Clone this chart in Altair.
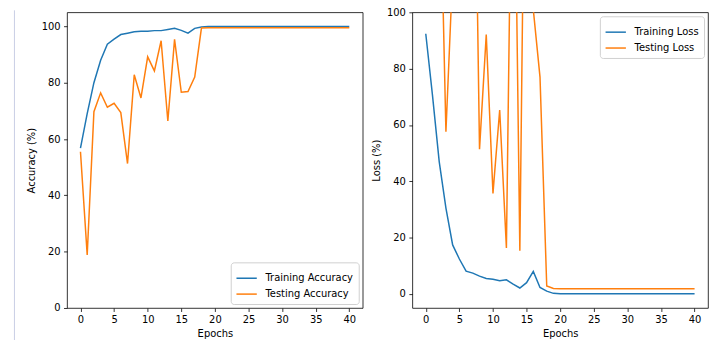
import altair as alt
import pandas as pd

epochs = list(range(41))

train_acc = [56.8, 69.0, 80.0, 88.0, 93.7, 95.5, 97.1, 97.6, 98.1, 98.3,
             98.3, 98.5, 98.5, 98.9, 99.3, 98.6, 97.6, 99.3, 99.8, 99.95] + [99.95] * 21
test_acc = [55.5, 18.8, 69.7, 76.4, 71.3, 72.7, 69.4, 51.3, 82.8, 74.6,
            89.2, 84.2, 94.9, 66.4, 95.4, 76.6, 76.9, 82.0, 99.4, 99.5] + [99.5] * 21

train_loss = [92.4, 70.5, 47.0, 30.5, 17.4, 12.4, 8.1, 7.4, 6.3, 5.5,
              5.2, 4.7, 5.0, 3.5, 2.1, 4.0, 8.0, 2.3, 1.0, 0.2] + [0.1] * 21
test_loss = [300, 250, 163, 57.6, 114, 150, 160, 213, 51.4, 92.1,
             35.7, 65.3, 16.3, 200, 15.3, 227, 101, 77.0, 2.8, 1.9] + [1.8] * 21

acc_names = ["Training Accuracy", "Testing Accuracy"]
loss_names = ["Training Loss", "Testing Loss"]
colors = ["#1f77b4", "#ff7f0e"]
x_ticks = list(range(0, 41, 5))
y_ticks = list(range(0, 101, 20))

acc_df = pd.DataFrame({
    "epoch": epochs * 2,
    "value": train_acc + test_acc,
    "series": [acc_names[0]] * 41 + [acc_names[1]] * 41,
})
loss_df = pd.DataFrame({
    "epoch": epochs * 2,
    "value": train_loss + test_loss,
    "series": [loss_names[0]] * 41 + [loss_names[1]] * 41,
})

FONT = "DejaVu Sans"


def legend(orient):
    return alt.Legend(
        title=None, orient=orient, offset=4, fillColor="white",
        strokeColor="#d0d0d0", cornerRadius=3, padding=5,
        labelFontSize=10, labelFont=FONT, labelColor="black",
        symbolType="stroke", symbolStrokeWidth=1.5, symbolSize=420,
        rowPadding=-5, labelOffset=8,
    )


def xaxis():
    return alt.X("epoch:Q", title="Epochs",
                 scale=alt.Scale(domain=[-2, 42], nice=False, zero=False),
                 axis=alt.Axis(values=x_ticks, titlePadding=4))


def panel(df, names, ydomain, ytitle, legend_orient):
    lines = alt.Chart(df).mark_line(strokeWidth=1.5, clip=True).encode(
        x=xaxis(),
        y=alt.Y("value:Q", title=ytitle,
                scale=alt.Scale(domain=ydomain, nice=False, zero=False),
                axis=alt.Axis(values=y_ticks, titlePadding=5)),
        color=alt.Color("series:N", sort=names,
                        scale=alt.Scale(domain=names, range=colors),
                        legend=legend(legend_orient)),
    )
    return lines


left_lines = panel(acc_df, acc_names, [0, 105], "Accuracy (%)", "bottom-right")
border = alt.Chart(pd.DataFrame({"a": [0]})).mark_rule(
    color="#c9cfe5", strokeWidth=1
).encode(x=alt.value(-53), y=alt.value(-2), y2=alt.value(340))
left = alt.layer(border, left_lines).properties(width=298, height=298)

right = panel(loss_df, loss_names, [-5, 100], "Loss (%)", "top-right").properties(
    width=298, height=298)

chart = alt.hconcat(left, right, spacing=50, bounds="flush").resolve_scale(
    color="independent", x="independent", y="independent"
).resolve_legend(color="independent").properties(
    padding={"left": 5.5, "top": -3, "right": 0, "bottom": 0}
).configure_view(
    stroke="black", strokeWidth=0.8
).configure_axis(
    grid=False, domain=False, tickColor="black", tickWidth=0.8, tickSize=3.5,
    labelPadding=3.5, labelFontSize=10, labelFont=FONT, labelColor="black",
    titleFontSize=10, titleFont=FONT, titleFontWeight="normal", titleColor="black",
)

chart.save("out.html", embed_options={"renderer": "svg", "actions": False})
